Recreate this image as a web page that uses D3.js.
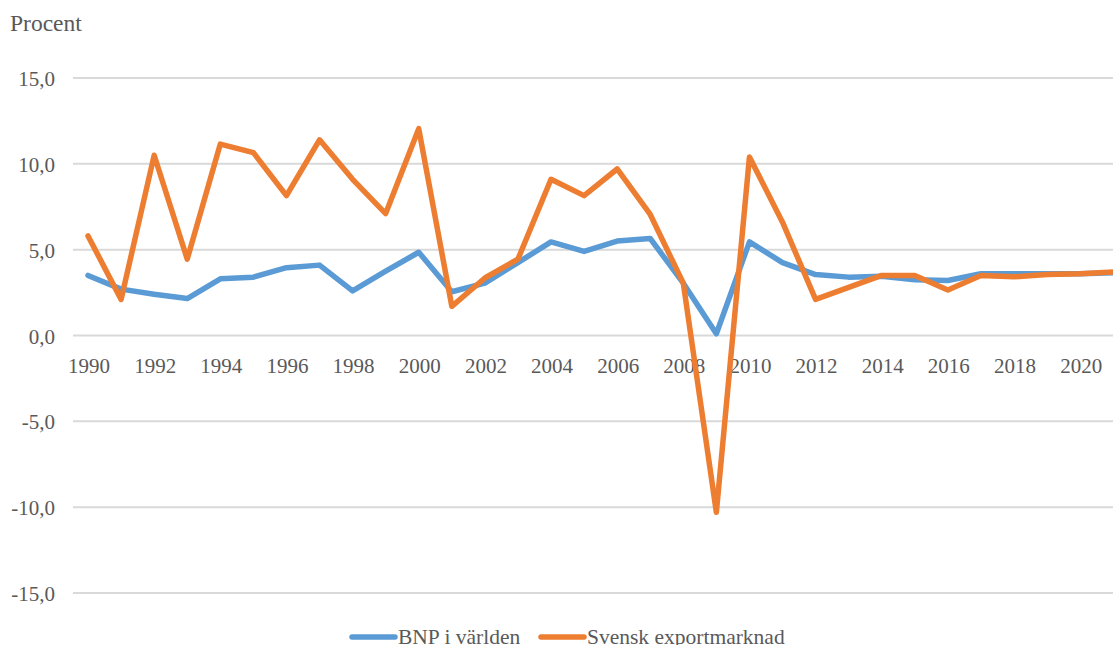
<!DOCTYPE html>
<html>
<head>
<meta charset="utf-8">
<script src="https://cdn.jsdelivr.net/npm/d3@7"></script>
<style>
  body { margin: 0; background: #fff; }
  svg { display: block; font-family: "Liberation Serif", "Times New Roman", serif; }
</style>
</head>
<body>
<div class="graph-container"></div>
<script>
const years = d3.range(1990, 2022);

const bnp = [3.5, 2.7, 2.4, 2.15, 3.3, 3.4, 3.95, 4.1, 2.6, 3.75, 4.85, 2.55, 3.05, 4.25,
  5.45, 4.9, 5.5, 5.65, 3.05, 0.1, 5.45, 4.25, 3.55, 3.4, 3.45, 3.25, 3.2, 3.6,
  3.6, 3.6, 3.6, 3.65];

const export_ = [5.8, 2.1, 10.5, 4.45, 11.15, 10.65, 8.15, 11.4, 9.1, 7.1, 12.05, 1.7, 3.35, 4.45,
  9.1, 8.15, 9.7, 7.05, 3.05, -10.3, 10.4, 6.6, 2.1, 2.8, 3.5, 3.5, 2.65, 3.5,
  3.42, 3.55, 3.6, 3.7];

const yTicks = [-15, -10, -5, 0, 5, 10, 15];

const seriesNames = ["BNP i världen", "Svensk exportmarknad"];
const colors = ["#5B9BD5", "#ED7D31"];

let dims = { width: 1113, height: 645 };

const svg = d3.select(".graph-container")
  .append("svg")
  .attr("width", dims.width)
  .attr("height", dims.height);

const x = d3.scaleBand().domain(years).range([71.5, 71.5 + 32 * 33.07]);
const y = d3.scaleLinear().domain([-15, 15]).range([593, 78]);

const fmt = d => d3.format(".1f")(d).replace(".", ",").replace("−", "-");

// gridlines
svg.append("g").selectAll("line").data(yTicks).enter().append("line")
  .attr("x1", 73).attr("x2", dims.width)
  .attr("y1", d => y(d)).attr("y2", d => y(d))
  .attr("stroke", "#D9D9D9").attr("stroke-width", 2);

// y labels
svg.append("g").selectAll("text").data(yTicks).enter().append("text")
  .attr("x", 55).attr("y", d => y(d) + 8)
  .attr("text-anchor", "end")
  .attr("font-size", 21).attr("fill", "#595959")
  .text(d => fmt(d));

svg.append("text").attr("x", 10).attr("y", 31)
  .attr("font-size", 23.5).attr("fill", "#595959").text("Procent");

// x labels every second year at the zero line
svg.append("g").selectAll("text").data(years.filter(d => d % 2 === 0)).enter().append("text")
  .attr("x", d => x(d) + x.bandwidth() / 2 + 1)
  .attr("y", y(0) + 37)
  .attr("text-anchor", "middle")
  .attr("font-size", 21).attr("fill", "#595959")
  .text(d => d);

const line = d3.line()
  .x((d, i) => x(years[i]) + x.bandwidth() / 2)
  .y(d => y(d));

[bnp, export_].forEach((vals, k) => {
  svg.append("path").datum(vals)
    .attr("d", line)
    .attr("fill", "none")
    .attr("stroke", colors[k])
    .attr("stroke-width", 5.5)
    .attr("stroke-linejoin", "round")
    .attr("stroke-linecap", "round");
});

// legend
const legendX = [352, 541];
const legend = svg.append("g").attr("class", "legend");
seriesNames.forEach((name, k) => {
  legend.append("line")
    .attr("x1", legendX[k]).attr("x2", legendX[k] + 43)
    .attr("y1", 637).attr("y2", 637)
    .attr("stroke", colors[k]).attr("stroke-width", 5.5)
    .attr("stroke-linecap", "round");
  legend.append("text")
    .attr("x", legendX[k] + 46).attr("y", 644)
    .attr("font-size", 21.5).attr("fill", "#595959")
    .text(name);
});
</script>
</body>
</html>
